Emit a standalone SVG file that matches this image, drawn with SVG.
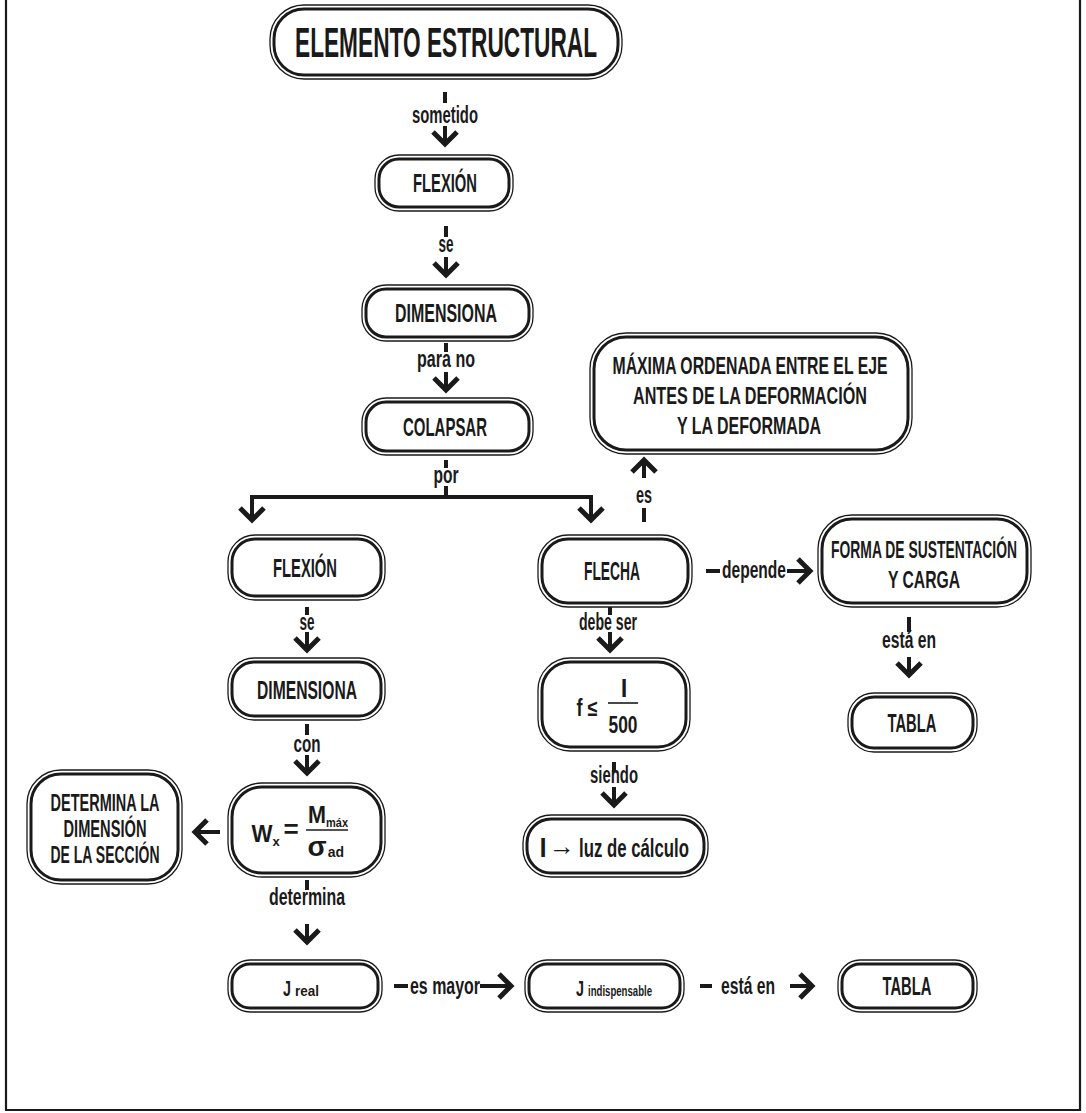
<svg xmlns="http://www.w3.org/2000/svg" xmlns:xlink="http://www.w3.org/1999/xlink" width="1086" height="1113" viewBox="0 0 1086 1113">
<style>
.bg{fill:#fff}
.o{fill:#fff;stroke:#1a1a1a;stroke-width:1.3}
.i{fill:none;stroke:#1a1a1a;stroke-width:3}
.t{font-family:"Liberation Sans",Arial,sans-serif;font-weight:bold;fill:#1a1a1a;text-anchor:middle}
.st{text-anchor:start}
.n{font-size:26px}
.m{font-size:23px}
.l{font-family:"Liberation Sans",Arial,sans-serif;font-weight:bold;font-size:23px;fill:#1a1a1a;text-anchor:middle}
.s{stroke:#1a1a1a;stroke-width:4;fill:none}
.ah{stroke:#1a1a1a;stroke-width:5;fill:none;stroke-linejoin:miter}
.fr{stroke:#1a1a1a;stroke-width:2.2;fill:none}
.th{stroke:#1a1a1a;stroke-width:1.6}
</style>
<defs>
<g id="ad"><path class="s" d="M0,-20 V-3"/><path class="ah" d="M-12,-14 L0,-2 L12,-14"/></g>
</defs>
<rect class="bg" x="0" y="0" width="1086" height="1113"/>
<path class="fr" d="M6,0 V1110 H1080 V0"/>

<g id="connectors">
<path class="s" d="M445,92 V103"/>
<text class="l" x="445" y="123" textLength="66" lengthAdjust="spacingAndGlyphs">sometido</text>
<use xlink:href="#ad" transform="translate(445,146)"/>
<path class="s" d="M446,226 V237"/>
<text class="l" x="446" y="252" textLength="15" lengthAdjust="spacingAndGlyphs">se</text>
<use xlink:href="#ad" transform="translate(446,277)"/>
<path class="s" d="M446,343 V352"/>
<text class="l" x="446" y="367" textLength="58" lengthAdjust="spacingAndGlyphs">para no</text>
<use xlink:href="#ad" transform="translate(446,392)"/>
<path class="s" d="M446,460 V468"/>
<text class="l" x="446" y="483" textLength="25" lengthAdjust="spacingAndGlyphs">por</text>
<path class="s" d="M446,486 V497 M252,497 H591"/>
<use xlink:href="#ad" transform="translate(252,522)"/>
<use xlink:href="#ad" transform="translate(591,522)"/>
<path class="s" d="M252,495 V505 M591,495 V505"/>
<path class="s" d="M644,508 V522"/>
<text class="l" x="644" y="503" textLength="16" lengthAdjust="spacingAndGlyphs">es</text>
<use xlink:href="#ad" transform="translate(644,458) rotate(180)"/>
<path class="s" d="M706,571 H720"/>
<text class="l" x="754" y="578" textLength="64" lengthAdjust="spacingAndGlyphs">depende</text>
<path class="s" d="M787,571 H800"/>
<use xlink:href="#ad" transform="translate(812,571) rotate(-90)"/>
<path class="s" d="M610,604 V615"/>
<text class="l" x="608" y="630" textLength="58" lengthAdjust="spacingAndGlyphs">debe ser</text>
<use xlink:href="#ad" transform="translate(610,652)"/>
<path class="s" d="M909,617 V632"/>
<text class="l" x="909" y="648" textLength="54" lengthAdjust="spacingAndGlyphs">está en</text>
<use xlink:href="#ad" transform="translate(909,677)"/>
<path class="s" d="M614,762 V772"/>
<text class="l" x="614" y="783" textLength="48" lengthAdjust="spacingAndGlyphs">siendo</text>
<use xlink:href="#ad" transform="translate(614,807)"/>
<path class="s" d="M307,607 V615"/>
<text class="l" x="307" y="630" textLength="15" lengthAdjust="spacingAndGlyphs">se</text>
<use xlink:href="#ad" transform="translate(307,652)"/>
<path class="s" d="M307,724 V735"/>
<text class="l" x="307" y="752" textLength="27" lengthAdjust="spacingAndGlyphs">con</text>
<use xlink:href="#ad" transform="translate(307,775)"/>
<use xlink:href="#ad" transform="translate(193,832) rotate(90)"/>
<path class="s" d="M205,832 H220"/>
<path class="s" d="M307,880 V890"/>
<text class="l" x="307" y="905" textLength="76" lengthAdjust="spacingAndGlyphs">determina</text>
<use xlink:href="#ad" transform="translate(307,944)"/>
<path class="s" d="M394,986 H408"/>
<text class="l" x="445" y="994" textLength="70" lengthAdjust="spacingAndGlyphs">es mayor</text>
<path class="s" d="M480,986 H500"/>
<use xlink:href="#ad" transform="translate(513,986) rotate(-90)"/>
<path class="s" d="M700,986 H712"/>
<text class="l" x="748" y="994" textLength="54" lengthAdjust="spacingAndGlyphs">está en</text>
<path class="s" d="M790,986 H802"/>
<use xlink:href="#ad" transform="translate(814,986) rotate(-90)"/>
</g>

<g id="n-elemento">
<rect class="o" x="270" y="5" width="352" height="74" rx="34"/>
<rect class="i" x="274" y="9" width="344" height="66" rx="30"/>
<text class="t" x="446" y="57" font-size="42" textLength="302" lengthAdjust="spacingAndGlyphs">ELEMENTO ESTRUCTURAL</text>
</g>
<g id="n-flexion1">
<rect class="o" x="375" y="155" width="138" height="56" rx="24"/>
<rect class="i" x="379" y="159" width="130" height="48" rx="20"/>
<text class="t n" x="445" y="192" textLength="64" lengthAdjust="spacingAndGlyphs">FLEXIÓN</text>
</g>
<g id="n-dimensiona1">
<rect class="o" x="362" y="285" width="171" height="56" rx="24"/>
<rect class="i" x="366" y="289" width="163" height="48" rx="20"/>
<text class="t n" x="446" y="322" textLength="102" lengthAdjust="spacingAndGlyphs">DIMENSIONA</text>
</g>
<g id="n-colapsar">
<rect class="o" x="362" y="398" width="171" height="57" rx="24"/>
<rect class="i" x="366" y="402" width="163" height="49" rx="20"/>
<text class="t n" x="445" y="436" textLength="84" lengthAdjust="spacingAndGlyphs">COLAPSAR</text>
</g>
<g id="n-maxima">
<rect class="o" x="590" y="333" width="322" height="121" rx="36"/>
<rect class="i" x="594" y="337" width="314" height="113" rx="32"/>
<text class="t m" x="750" y="374" textLength="275" lengthAdjust="spacingAndGlyphs">MÁXIMA ORDENADA ENTRE EL EJE</text>
<text class="t m" x="750" y="404" textLength="234" lengthAdjust="spacingAndGlyphs">ANTES DE LA  DEFORMACIÓN</text>
<text class="t m" x="749" y="434" textLength="144" lengthAdjust="spacingAndGlyphs">Y LA DEFORMADA</text>
</g>
<g id="n-flexion2">
<rect class="o" x="228" y="535" width="157" height="65" rx="27"/>
<rect class="i" x="232" y="539" width="149" height="57" rx="23"/>
<text class="t n" x="305" y="577" textLength="64" lengthAdjust="spacingAndGlyphs">FLEXIÓN</text>
</g>
<g id="n-flecha">
<rect class="o" x="538" y="535" width="154" height="72" rx="30"/>
<rect class="i" x="542" y="539" width="146" height="64" rx="26"/>
<text class="t n" x="612" y="580" textLength="56" lengthAdjust="spacingAndGlyphs">FLECHA</text>
</g>
<g id="n-forma">
<rect class="o" x="818" y="515" width="213" height="92" rx="34"/>
<rect class="i" x="822" y="519" width="205" height="84" rx="30"/>
<text class="t m" x="924" y="558" textLength="186" lengthAdjust="spacingAndGlyphs">FORMA DE SUSTENTACIÓN</text>
<text class="t m" x="924" y="588" textLength="72" lengthAdjust="spacingAndGlyphs">Y CARGA</text>
</g>
<g id="n-dimensiona2">
<rect class="o" x="228" y="658" width="157" height="62" rx="26"/>
<rect class="i" x="232" y="662" width="149" height="54" rx="22"/>
<text class="t n" x="307" y="699" textLength="100" lengthAdjust="spacingAndGlyphs">DIMENSIONA</text>
</g>
<g id="n-flecha-limite">
<rect class="o" x="538" y="658" width="152" height="93" rx="32"/>
<rect class="i" x="542" y="662" width="144" height="85" rx="28"/>
<text class="t m" x="587" y="716" textLength="21" lengthAdjust="spacingAndGlyphs">f ≤</text>
<path class="th" d="M608,703 H638"/>
<text class="t" x="624" y="697" font-size="24" font-weight="normal">l</text>
<text class="t m" x="623" y="733" textLength="29" lengthAdjust="spacingAndGlyphs">500</text>
</g>
<g id="n-tabla1">
<rect class="o" x="848" y="693" width="129" height="59" rx="26"/>
<rect class="i" x="852" y="697" width="121" height="51" rx="22"/>
<text class="t n" x="912" y="732" textLength="49" lengthAdjust="spacingAndGlyphs">TABLA</text>
</g>
<g id="n-wx">
<rect class="o" x="228" y="783" width="157" height="94" rx="34"/>
<rect class="i" x="232" y="787" width="149" height="86" rx="30"/>
<text class="t m" x="262" y="842" textLength="21" lengthAdjust="spacingAndGlyphs">W</text>
<text class="t" x="276" y="846" font-size="13">x</text>
<text class="t" x="291" y="838" font-size="26" font-weight="normal">=</text>
<path class="th" d="M306,830 H348"/>
<text class="t m" x="317" y="823" textLength="18" lengthAdjust="spacingAndGlyphs">M</text>
<text class="t" x="337" y="827" font-size="13" textLength="22" lengthAdjust="spacingAndGlyphs">máx</text>
<text class="t" x="317" y="856" font-size="28" font-weight="normal">σ</text>
<text class="t" x="336" y="857" font-size="14">ad</text>
</g>
<g id="n-determina">
<rect class="o" x="27" y="770" width="155" height="114" rx="34"/>
<rect class="i" x="31" y="774" width="147" height="106" rx="30"/>
<text class="t m" x="105" y="811" textLength="109" lengthAdjust="spacingAndGlyphs">DETERMINA LA</text>
<text class="t m" x="105" y="837" textLength="83" lengthAdjust="spacingAndGlyphs">DIMENSIÓN</text>
<text class="t m" x="105" y="863" textLength="109" lengthAdjust="spacingAndGlyphs">DE LA SECCIÓN</text>
</g>
<g id="n-luz">
<rect class="o" x="523" y="815" width="185" height="62" rx="28"/>
<rect class="i" x="527" y="819" width="177" height="54" rx="24"/>
<text class="t" x="543" y="857" font-size="26" font-weight="normal">l</text>
<text class="t" x="562" y="855" font-size="26" font-weight="normal">→</text>
<text class="t n" x="634" y="857" textLength="110" lengthAdjust="spacingAndGlyphs">luz de cálculo</text>
</g>
<g id="n-jreal">
<rect class="o" x="228" y="960" width="154" height="52" rx="22"/>
<rect class="i" x="232" y="964" width="146" height="44" rx="18"/>
<text class="t st" x="283" y="996" font-size="22" font-weight="normal" textLength="8" lengthAdjust="spacingAndGlyphs">J</text>
<text class="t st" x="295" y="996" font-size="15" textLength="24" lengthAdjust="spacingAndGlyphs">real</text>
</g>
<g id="n-jindisp">
<rect class="o" x="525" y="960" width="159" height="52" rx="22"/>
<rect class="i" x="529" y="964" width="151" height="44" rx="18"/>
<text class="t st" x="576" y="996" font-size="22" font-weight="normal" textLength="8" lengthAdjust="spacingAndGlyphs">J</text>
<text class="t st" x="588" y="996" font-size="15" textLength="64" lengthAdjust="spacingAndGlyphs">indispensable</text>
</g>
<g id="n-tabla2">
<rect class="o" x="838" y="960" width="139" height="52" rx="22"/>
<rect class="i" x="842" y="964" width="131" height="44" rx="18"/>
<text class="t n" x="907" y="995" textLength="49" lengthAdjust="spacingAndGlyphs">TABLA</text>
</g>
</svg>
